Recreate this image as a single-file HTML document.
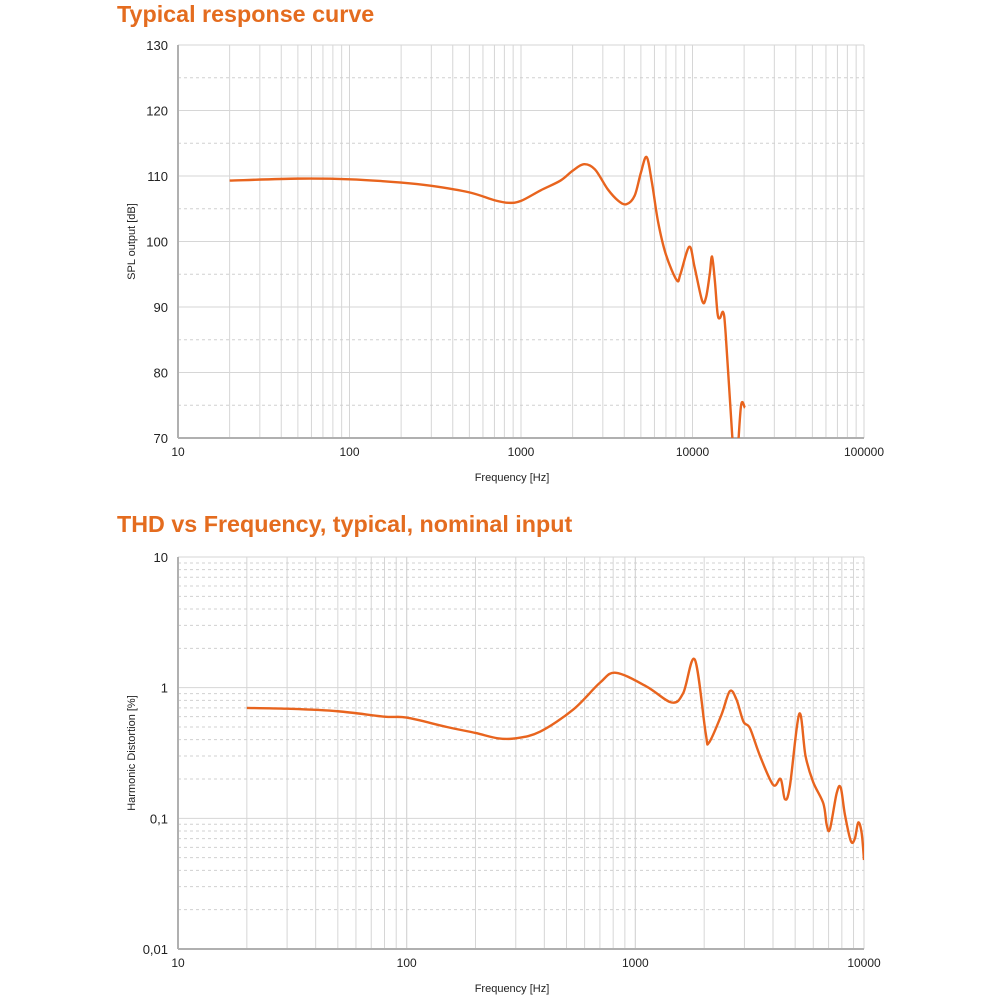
<!DOCTYPE html>
<html><head><meta charset="utf-8"><style>
body{margin:0;background:#fff;font-family:"Liberation Sans",sans-serif}
.t{position:absolute;color:#e46c1f;font-weight:bold;font-size:23.3px;left:117px}
</style></head><body>
<div class="t" style="top:1px">Typical response curve</div>
<div class="t" style="top:511px">THD vs Frequency, typical, nominal input</div>
<svg id="s" width="1000" height="1000" style="position:absolute;left:0;top:0"></svg>
<script>
const respFreq=[20,50,100,200,300,500,700,850,1000,1300,1700,2000,2330,2700,3200,3700,4130,4600,5000,5400,5800,6300,7000,8090,8500,9580,10300,11400,12000,12600,13000,13500,14000,14450,15100,15600,17060,17500,18200,19200,20200];
const respDb=[109.3,109.6,109.5,109.0,108.5,107.5,106.3,105.9,106.2,107.8,109.3,110.8,111.8,111,108,106.2,105.7,107,110.5,112.9,109,103,98,94.1,95,99.2,96,90.9,91.5,95,97.7,94,89,88.3,89.2,86,70.2,67,67,75,74.6];
const respYTicks=[70,80,90,100,110,120,130];
const respXTicks=[10,100,1000,10000,100000];
const thdFreq=[20,30,50,80,100,150,200,250,300,383,535,700,822,1120,1440,1620,1820,2030,2100,2380,2590,2770,2970,3170,3510,4010,4320,4510,4740,5210,5550,5990,6640,6870,7100,7590,7910,8250,8760,9120,9440,9770,10000];
const thdVal=[0.70,0.69,0.66,0.60,0.59,0.50,0.45,0.41,0.41,0.46,0.68,1.09,1.30,1.02,0.77,0.91,1.64,0.45,0.38,0.62,0.94,0.81,0.55,0.49,0.30,0.18,0.20,0.14,0.176,0.63,0.30,0.19,0.13,0.089,0.083,0.155,0.172,0.107,0.067,0.07,0.093,0.077,0.048];
const thdYTicks=[0.01,0.1,1,10];
const thdYLabels=["0,01","0,1","1","10"];
const thdXTicks=[10,100,1000,10000];

const NS="http://www.w3.org/2000/svg",svg=document.getElementById('s');
function el(t,a,txt){const e=document.createElementNS(NS,t);for(const k in a)e.setAttribute(k,a[k]);if(txt!==undefined)e.textContent=txt;svg.appendChild(e);return e;}
const L=178,R=864;
function path(pts){let d=`M${pts[0][0]},${pts[0][1]}`;for(let i=0;i<pts.length-1;i++){const p0=pts[Math.max(0,i-1)],p1=pts[i],p2=pts[i+1],p3=pts[Math.min(pts.length-1,i+2)];d+=` C${p1[0]+(p2[0]-p0[0])/6},${p1[1]+(p2[1]-p0[1])/6} ${p2[0]-(p3[0]-p1[0])/6},${p2[1]-(p3[1]-p1[1])/6} ${p2[0]},${p2[1]}`;}return d;}
function chart(cfg){
 const {T,B,x,y}=cfg;
 const cid='c'+T;
 const cp=el('clipPath',{id:cid});const r=document.createElementNS(NS,'rect');r.setAttribute('x',L);r.setAttribute('y',T);r.setAttribute('width',R-L);r.setAttribute('height',B-T);cp.appendChild(r);
 for(let d=cfg.xd0;d<cfg.xd1;d++)for(let m=1;m<=10;m++){const f=Math.pow(10,d)*m;const X=x(f);if(X<=L+0.5)continue;
  const g=el('line',{x1:X,x2:X,y1:T,y2:B,stroke:'#d6d6d6','stroke-width':1});
  
  }
 cfg.hgrid();
 for(const f of cfg.xt){const t=el('text',{x:x(f),y:B+18,'text-anchor':'middle','font-size':12,fill:'#222'},String(f));
  
  }
 const ax=el('line',{x1:L,x2:L,y1:T,y2:B,stroke:'#b0b0b0','stroke-width':2});
 const bx=el('line',{x1:L,x2:R,y1:B,y2:B,stroke:'#b0b0b0','stroke-width':2});
 const xt=el('text',{x:512,y:B+43,'text-anchor':'middle','font-size':11,fill:'#222'},'Frequency [Hz]');
 const yc=(T+B)/2;const yt=el('text',{x:0,y:0,transform:`translate(135,${yc}) rotate(-90)`,'text-anchor':'middle','font-size':11,fill:'#222'},cfg.ytitle);
 const pts=cfg.fx.map((f,i)=>[x(f),y(cfg.fy[i])]);
 const p=el('path',{d:path(pts),fill:'none',stroke:'#e8641e','stroke-width':2.4,'stroke-linejoin':'round','clip-path':`url(#${cid})`});
 
 
}
{const T=45,B=438;const x=f=>L+(Math.log10(f)-1)*(R-L)/4;const y=v=>T+(130-v)*(B-T)/60;
chart({T,B,x,y,xd0:1,xd1:5,xt:respXTicks,fx:respFreq,fy:respDb,ytitle:'SPL output [dB]',lname:'spl-response-line',
 hgrid(){for(let v=75;v<130;v+=10){const g=el('line',{x1:L,x2:R,y1:y(v),y2:y(v),stroke:'#d0d0d0','stroke-dasharray':'3,3'});}
  for(const v of respYTicks){if(v>70){const g=el('line',{x1:L,x2:R,y1:y(v),y2:y(v),stroke:'#d6d6d6'});}
   const t=el('text',{x:L-10,y:y(v)+5,'text-anchor':'end','font-size':13,fill:'#222'},String(v));}}});}
{const T=557,B=949;const x=f=>L+(Math.log10(f)-1)*(R-L)/3;const y=v=>T+(1-Math.log10(v))*(B-T)/3;
chart({T,B,x,y,xd0:1,xd1:4,xt:thdXTicks,fx:thdFreq,fy:thdVal,ytitle:'Harmonic Distortion [%]',lname:'thd-line',
 hgrid(){for(let d=-2;d<1;d++)for(let m=2;m<=9;m++){const v=Math.pow(10,d)*m;const g=el('line',{x1:L,x2:R,y1:y(v),y2:y(v),stroke:'#d0d0d0','stroke-dasharray':'3,3'});}
  thdYTicks.forEach((v,i)=>{if(v>0.01){const g=el('line',{x1:L,x2:R,y1:y(v),y2:y(v),stroke:'#d6d6d6'});}
   const t=el('text',{x:L-10,y:y(v)+5,'text-anchor':'end','font-size':13,fill:'#222'},thdYLabels[i]);});}});}
</script>
</body></html>
